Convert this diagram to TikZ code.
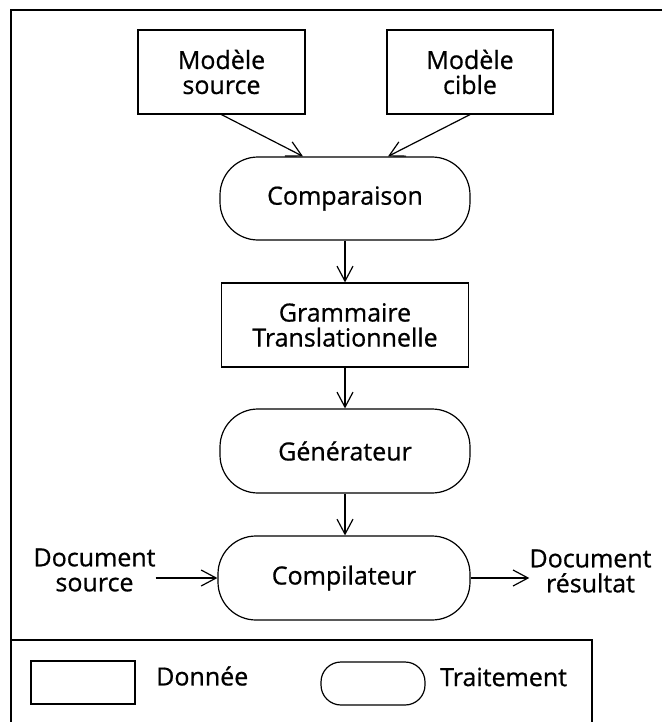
\documentclass[tikz,border=0pt]{standalone}
\usepackage{fontspec}
\setmainfont{Open Sans}[FakeBold=0.7]
\usetikzlibrary{arrows.meta}
\begin{document}
\begin{tikzpicture}[x=1pt,y=-1pt,
  every node/.style={font=\fontsize{25}{25}\selectfont, align=center},
  databox/.style={draw, line width=1.2pt, rectangle, inner sep=0pt},
  procbox/.style={draw, line width=1.2pt, rectangle, rounded corners=38pt, inner sep=0pt},
  plain/.style={inner sep=0pt},
  flow/.style={line width=1.2pt, -{Straight Barb[length=15pt,width=16pt,line width=1.2pt]}},
  frame/.style={line width=1.4pt}]
\useasboundingbox (0,0) rectangle (665,722);

% outer frame and legend divider
\draw[frame] (662,10) -- (11,10) -- (11,722);
\draw[frame] (11,640) -- (592,640) -- (592,722);

% data and processing steps
\node[databox, minimum width=167pt, minimum height=84pt] (src) at (221.5,72) {Modèle\\source};
\node[databox, minimum width=166pt, minimum height=84pt] (tgt) at (470,72) {Modèle\\cible};
\node[procbox, minimum width=250pt, minimum height=83pt] (cmp) at (345,198.5) {Comparaison};
\node[databox, minimum width=247pt, minimum height=84pt] (gram) at (345,325) {Grammaire\\Translationnelle};
\node[procbox, minimum width=250pt, minimum height=84pt] (gen) at (345,451) {Générateur};
\node[procbox, minimum width=252pt, minimum height=84pt] (comp) at (344,578) {Compilateur};
\node[plain] (dsrc) at (94.5,570) {Document\\source};
\node[plain] (dres) at (590.5,571) {Document\\résultat};

% flow connectors
\draw[flow] (src.south) -- ([xshift=-42pt]cmp.north);
\draw[flow] (tgt.south) -- ([xshift=43pt]cmp.north);
\draw[flow] (cmp.south) -- (gram.north);
\draw[flow] (gram.south) -- (gen.north);
\draw[flow] (gen.south) -- (gen.south |- comp.north);
\draw[flow] (dsrc.east |- comp.west) -- (comp.west);
\draw[flow] (comp.east) -- (dres.west |- comp.east);

% legend
\node[databox, minimum width=104pt, minimum height=43pt] (legd) at (83,682.5) {};
\node[plain, anchor=west] (legdt) at (156,676) {Donnée};
\node[procbox, rounded corners=20pt, minimum width=104pt, minimum height=43pt] (legp) at (373,683.5) {};
\node[plain, anchor=west] (legpt) at (440,677) {Traitement};
\end{tikzpicture}
\end{document}
